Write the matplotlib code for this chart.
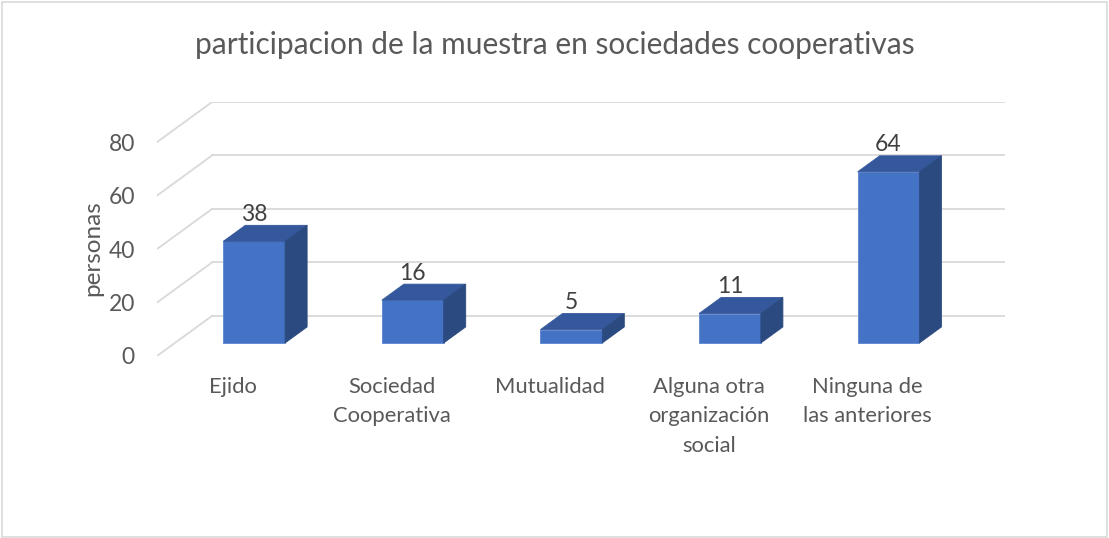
import numpy as np
import matplotlib.pyplot as plt
from matplotlib.patches import Polygon, Rectangle

categorias = ["Ejido", "Sociedad\nCooperativa", "Mutualidad",
              "Alguna otra\norganización\nsocial", "Ninguna de\nlas anteriores"]
valores = [38, 16, 5, 11, 64]
yticks = [0, 20, 40, 60, 80]

titulo = "participacion de la muestra en sociedades cooperativas"

plt.rcParams['font.family'] = ['Lato', 'DejaVu Sans']

# oblique "3D" look like the excel chart
prof_x = 0.347   # depth offset in category units
prof_y = 15.0    # depth offset in value units
ancho = 0.39
d0, d1 = 0.325, 0.725   # bar starts/ends along the depth

c_frente = "#4472c4"
c_tapa = "#34589b"
c_lado = "#2b4a80"
c_grid = "#d9d9d9"

fig = plt.figure(figsize=(11.09, 5.38), dpi=100)
ax = fig.add_axes([157/1109, 1 - 356/538, 848/1109, 254/538])
n = len(valores)
ax.set_xlim(0, n + prof_x)
ax.set_ylim(0, yticks[-1] + prof_y)

for v in yticks:
    ax.plot([0, prof_x], [v, v + prof_y], color=c_grid, lw=1.3, zorder=1)
    ax.plot([prof_x, n + prof_x], [v + prof_y, v + prof_y], color=c_grid, lw=1.3, zorder=1)

for i, v in enumerate(valores):
    ox, oy = d0 * prof_x, d0 * prof_y
    dx, dy = (d1 - d0) * prof_x, (d1 - d0) * prof_y
    xl = i + 0.5 - ancho / 2 + ox
    xr = xl + ancho
    ax.add_patch(Rectangle((xl, oy), ancho, v, facecolor=c_frente,
                           edgecolor="#5b85d0", lw=0.6, zorder=3))
    ax.add_patch(Polygon([(xl, oy + v), (xr, oy + v), (xr + dx, oy + v + dy),
                          (xl + dx, oy + v + dy)], closed=True,
                         facecolor=c_tapa, edgecolor=c_tapa, lw=0.6, zorder=3))
    ax.add_patch(Polygon([(xr, oy), (xr, oy + v), (xr + dx, oy + v + dy),
                          (xr + dx, oy + dy)], closed=True,
                         facecolor=c_lado, edgecolor=c_lado, lw=0.6, zorder=3))
    ax.text(i + 0.5 + ox, oy + v + dy + 0.2, str(v), ha="center", va="bottom",
            fontsize=16.5, color="#404040", zorder=4)

ax.set_yticks(yticks)
ax.set_yticklabels([str(t) for t in yticks], fontsize=16.5, color="#595959")
ax.set_xticks(np.arange(n) + 0.48)
ax.set_xticklabels(categorias, fontsize=15.8, color="#595959", linespacing=1.6)
ax.tick_params(axis="both", length=0)
ax.tick_params(axis="y", pad=16)
ax.tick_params(axis="x", pad=15)
for s in ax.spines.values():
    s.set_visible(False)

fig.text(93/1109, 1 - 248/538, "personas", rotation=90, ha="center", va="center",
         fontsize=17.5, color="#595959")
fig.text(555/1109, 1 - 45/538, titulo, ha="center", va="center",
         fontsize=21.5, color="#595959")

fig.patches.append(Rectangle((2/1109, 1/538), 1105/1109, 535/538, transform=fig.transFigure,
                             fill=False, edgecolor="#d9d9d9", lw=1.2))

fig.savefig("out.png", dpi=100)
